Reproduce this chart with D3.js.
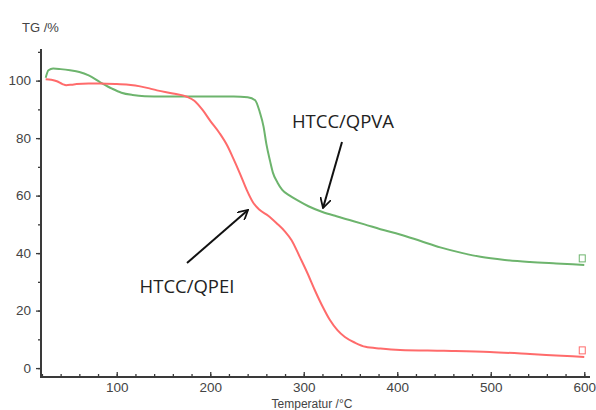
<!DOCTYPE html>
<html>
<head>
<meta charset="utf-8">
<script src="https://cdn.jsdelivr.net/npm/d3@7"></script>
<style>
  body { margin: 0; background: #fff; }
  svg { font-family: "Liberation Sans", Arial, sans-serif; }
</style>
</head>
<body>
<div id="chart"></div>
<script>
/**
 * DATA
 * */
const tempQPVA = [24, 27, 32, 40, 50, 60, 70, 82, 95, 105, 117, 130, 150, 175, 200, 225, 240, 248, 253, 257, 260, 264, 267, 272, 277, 285, 293, 305, 320, 335, 349, 365, 382, 403, 425, 446, 470, 489, 515, 542, 570, 600];
const tgQPVA   = [101, 103.6, 104.2, 104, 103.6, 103, 101.8, 99.5, 97.2, 95.8, 95, 94.6, 94.5, 94.5, 94.5, 94.5, 94.2, 93.2, 89, 84, 78, 72, 68, 64.5, 62, 60, 58.4, 56.3, 54.3, 52.8, 51.5, 50, 48.3, 46.5, 44.2, 42, 40, 38.7, 37.6, 36.9, 36.4, 35.9];
const tempQPEI = [24, 30, 36, 42, 46, 52, 57, 70, 82, 100, 115, 125, 135, 143, 160, 175, 183, 192, 200, 210, 218, 224, 232, 239, 246, 253, 262, 271, 280, 287, 296, 304, 312, 320, 328, 336, 344, 355, 366, 382, 403, 450, 499, 542, 570, 600];
const tgQPEI   = [100.5, 100.3, 99.8, 98.8, 98.4, 98.6, 98.8, 99, 99, 98.8, 98.5, 98, 97.3, 96.6, 95.5, 94.4, 93, 89.7, 86, 81.7, 77.5, 73.4, 67.5, 62, 57.5, 55, 53, 50.4, 47.5, 44.5, 38.5, 33, 27, 21.5, 16.7, 13.2, 10.8, 8.8, 7.4, 6.8, 6.3, 6, 5.6, 4.9, 4.4, 3.9];

const xTicks = [100, 200, 300, 400, 500, 600];
const yTicks = [0, 20, 40, 60, 80, 100];

const series = [
  { name: "HTCC/QPVA", temp: tempQPVA, tg: tgQPVA, color: "#6db46d" },
  { name: "HTCC/QPEI", temp: tempQPEI, tg: tgQPEI, color: "#ff6b6b" }
];

/**
 * CONSTANTS
 * */
const width = 596,
  height = 410,
  margin = { top: 49, right: 8, bottom: 33, left: 41 };

const svg = d3.select("#chart")
  .append("svg")
  .attr("width", width)
  .attr("height", height);

// scales
const x = d3.scaleLinear()
  .domain([19, 604])
  .range([margin.left, width - margin.right]);

const y = d3.scaleLinear()
  .domain([-3.1, 111])
  .range([height - margin.bottom, margin.top]);

const axisColor = "#3a3a3a";
const textColor = "#444";

// x axis with minor ticks
const xAxis = svg.append("g")
  .attr("transform", `translate(0,${height - margin.bottom})`);
xAxis.call(d3.axisBottom(x).tickValues(d3.range(20, 601, 20)).tickSize(-3).tickFormat(""))
  .call(g => g.select(".domain").remove());
xAxis.append("g")
  .call(d3.axisBottom(x).tickValues(xTicks).tickSize(-5).tickPadding(5))
  .call(g => g.select(".domain").remove());
xAxis.append("line")
  .attr("x1", margin.left).attr("x2", width - margin.right + 2)
  .attr("stroke", axisColor).attr("stroke-width", 2);

// y axis with minor ticks
const yAxis = svg.append("g")
  .attr("transform", `translate(${margin.left},0)`);
yAxis.call(d3.axisLeft(y).tickValues(d3.range(0, 111, 10)).tickSize(3).tickFormat(""))
  .call(g => g.select(".domain").remove());
yAxis.append("g")
  .call(d3.axisLeft(y).tickValues(yTicks).tickSize(5).tickPadding(5))
  .call(g => g.select(".domain").remove());
yAxis.append("line")
  .attr("y1", margin.top).attr("y2", height - margin.bottom + 1)
  .attr("stroke", axisColor).attr("stroke-width", 2);

svg.selectAll(".tick line").attr("stroke", axisColor).attr("stroke-width", 1.3);
svg.selectAll(".tick text")
  .attr("fill", textColor)
  .style("font-size", "13.5px");

// axis titles
svg.append("text")
  .attr("x", 22).attr("y", 32)
  .attr("fill", textColor)
  .style("font-size", "13px")
  .text("TG /%");

svg.append("text")
  .attr("x", 312).attr("y", 408)
  .attr("text-anchor", "middle")
  .attr("fill", textColor)
  .style("font-size", "12px")
  .text("Temperatur /°C");

// curves
const line = d3.line()
  .x(d => x(d[0]))
  .y(d => y(d[1]))
  .curve(d3.curveMonotoneX);

series.forEach((s, i) => {
  const pts = s.temp.map((t, j) => [t, s.tg[j]]);
  svg.append("path")
    .datum(pts)
    .attr("fill", "none")
    .attr("stroke", s.color)
    .attr("stroke-width", 2)
    .attr("d", line);

  // little end marker box
  const last = pts[pts.length - 1];
  svg.append("rect")
    .attr("x", x(last[0]) - 5)
    .attr("y", y(last[1]) - 10)
    .attr("width", 6)
    .attr("height", 7)
    .attr("fill", "none")
    .attr("stroke", s.color)
    .attr("stroke-width", 1);
});

// annotations
svg.append("defs").append("marker")
  .attr("id", "arrow")
  .attr("viewBox", "0 0 10 10")
  .attr("refX", 9).attr("refY", 5)
  .attr("markerWidth", 11).attr("markerHeight", 11)
  .attr("markerUnits", "userSpaceOnUse")
  .attr("orient", "auto")
  .append("path")
  .attr("d", "M0,0 L9,5 L0,10")
  .attr("fill", "none")
  .attr("stroke", "#111")
  .attr("stroke-width", 1.6);

const notes = [
  { text: "HTCC/QPVA", tx: 343, ty: 128, from: [342, 142], to: [323, 208] },
  { text: "HTCC/QPEI", tx: 187, ty: 293, from: [187, 263], to: [248, 210] }
];

notes.forEach(n => {
  svg.append("text")
    .attr("x", n.tx).attr("y", n.ty)
    .attr("text-anchor", "middle")
    .attr("fill", "#222")
    .style("font-family", "'Open Sans', sans-serif")
    .style("font-size", "18.5px")
    .text(n.text);
  svg.append("line")
    .attr("x1", n.from[0]).attr("y1", n.from[1])
    .attr("x2", n.to[0]).attr("y2", n.to[1])
    .attr("stroke", "#111")
    .attr("stroke-width", 2)
    .attr("marker-end", "url(#arrow)");
});
</script>
</body>
</html>
